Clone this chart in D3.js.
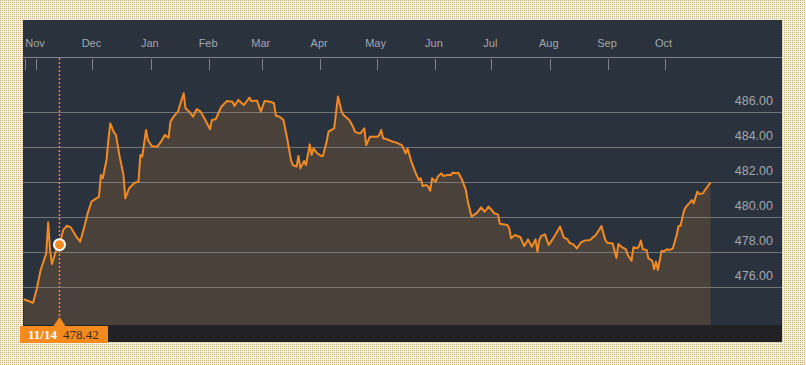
<!DOCTYPE html>
<html>
<head>
<meta charset="utf-8">
<script src="https://cdn.jsdelivr.net/npm/d3@7"></script>
<style>
    body { margin: 0; padding: 0; background: #f3ead0; }
    svg { display: block; }
</style>
</head>
<body>
<div id="chart"></div>
<script>
// daily closes
const dates = [
    "2013-10-26", "2013-10-31", "2013-11-02", "2013-11-04", "2013-11-07", "2013-11-08", "2013-11-09", "2013-11-10", "2013-11-12", "2013-11-14",
    "2013-11-16", "2013-11-18", "2013-11-20", "2013-11-23", "2013-11-25", "2013-11-27", "2013-11-29", "2013-12-01", "2013-12-05", "2013-12-06",
    "2013-12-07", "2013-12-09", "2013-12-10", "2013-12-11", "2013-12-13", "2013-12-14", "2013-12-16", "2013-12-18", "2013-12-19", "2013-12-21",
    "2013-12-24", "2013-12-26", "2013-12-27", "2013-12-28", "2013-12-30", "2013-12-31", "2014-01-02", "2014-01-05", "2014-01-07", "2014-01-09",
    "2014-01-11", "2014-01-12", "2014-01-14", "2014-01-16", "2014-01-17", "2014-01-19", "2014-01-20", "2014-01-22", "2014-01-24", "2014-01-26",
    "2014-01-28", "2014-01-30", "2014-02-02", "2014-02-03", "2014-02-05", "2014-02-08", "2014-02-11", "2014-02-14", "2014-02-15", "2014-02-17",
    "2014-02-20", "2014-02-23", "2014-02-24", "2014-02-27", "2014-03-01", "2014-03-03", "2014-03-06", "2014-03-08", "2014-03-09", "2014-03-11",
    "2014-03-13", "2014-03-15", "2014-03-17", "2014-03-18", "2014-03-20", "2014-03-21", "2014-03-22", "2014-03-24", "2014-03-25", "2014-03-27",
    "2014-03-28", "2014-03-29", "2014-03-31", "2014-04-02", "2014-04-03", "2014-04-05", "2014-04-06", "2014-04-09", "2014-04-11", "2014-04-13",
    "2014-04-14", "2014-04-17", "2014-04-19", "2014-04-20", "2014-04-22", "2014-04-23", "2014-04-25", "2014-04-26", "2014-04-28", "2014-05-02",
    "2014-05-03", "2014-05-04", "2014-05-05", "2014-05-07", "2014-05-10", "2014-05-12", "2014-05-15", "2014-05-17", "2014-05-18", "2014-05-20",
    "2014-05-22", "2014-05-24", "2014-05-25", "2014-05-26", "2014-05-28", "2014-05-29", "2014-05-30", "2014-05-31", "2014-06-02", "2014-06-03",
    "2014-06-05", "2014-06-06", "2014-06-08", "2014-06-10", "2014-06-11", "2014-06-13", "2014-06-14", "2014-06-16", "2014-06-18", "2014-06-19",
    "2014-06-21", "2014-06-24", "2014-06-26", "2014-06-28", "2014-06-30", "2014-07-02", "2014-07-03", "2014-07-05", "2014-07-06", "2014-07-10",
    "2014-07-11", "2014-07-12", "2014-07-14", "2014-07-17", "2014-07-19", "2014-07-21", "2014-07-23", "2014-07-25", "2014-07-26", "2014-07-27",
    "2014-07-28", "2014-07-30", "2014-08-01", "2014-08-03", "2014-08-05", "2014-08-07", "2014-08-09", "2014-08-11", "2014-08-12", "2014-08-14",
    "2014-08-16", "2014-08-18", "2014-08-20", "2014-08-23", "2014-08-26", "2014-08-28", "2014-08-29", "2014-08-31", "2014-09-01", "2014-09-04",
    "2014-09-06", "2014-09-07", "2014-09-09", "2014-09-11", "2014-09-12", "2014-09-14", "2014-09-15", "2014-09-17", "2014-09-18", "2014-09-19",
    "2014-09-20", "2014-09-22", "2014-09-23", "2014-09-25", "2014-09-26", "2014-09-27", "2014-09-28", "2014-09-30", "2014-10-01", "2014-10-03",
    "2014-10-04", "2014-10-06", "2014-10-08", "2014-10-09", "2014-10-10", "2014-10-12", "2014-10-13", "2014-10-15", "2014-10-16", "2014-10-17",
    "2014-10-19", "2014-10-20", "2014-10-22", "2014-10-23", "2014-10-25", "2014-10-26"
];
const closes = [
    475.30, 475.10, 475.93, 476.97, 477.93, 479.70, 478.11, 477.31, 478.02, 478.42,
    479.26, 479.50, 479.41, 478.87, 478.59, 479.35, 480.21, 480.88, 481.16, 482.40,
    482.21, 483.26, 484.40, 485.35, 484.82, 484.69, 483.45, 482.40, 481.07, 481.64,
    481.96, 482.02, 483.54, 483.45, 484.97, 484.40, 484.06, 484.02, 484.31, 484.69,
    484.53, 485.45, 485.79, 486.02, 486.40, 487.07, 486.21, 486.02, 485.73, 486.17,
    486.02, 485.64, 485.01, 485.54, 485.58, 486.30, 486.63, 486.59, 486.34, 486.69,
    486.40, 486.82, 486.63, 486.65, 486.02, 486.63, 486.59, 486.50, 485.79, 485.73,
    485.54, 484.50, 483.26, 482.97, 482.88, 483.49, 482.78, 483.20, 482.97, 484.15,
    483.54, 483.92, 483.64, 483.49, 483.49, 484.31, 484.88, 485.07, 486.88, 486.02,
    485.83, 485.54, 485.16, 484.88, 484.78, 484.78, 485.07, 484.11, 484.59, 484.59,
    484.69, 484.97, 484.50, 484.44, 484.31, 484.25, 484.11, 483.64, 483.92, 483.16,
    482.59, 482.11, 482.21, 481.77, 481.83, 481.73, 481.50, 482.21, 482.02, 482.30,
    482.50, 482.34, 482.40, 482.40, 482.53, 482.50, 482.53, 482.11, 481.54, 480.88,
    480.02, 480.25, 480.55, 480.30, 480.59, 480.36, 480.21, 480.15, 479.62, 479.54,
    479.35, 478.78, 478.97, 478.84, 478.34, 478.72, 478.30, 478.72, 478.02, 478.69,
    478.91, 479.01, 478.40, 478.72, 479.07, 479.45, 478.84, 478.72, 478.53, 478.44,
    478.21, 478.53, 478.65, 478.69, 478.97, 479.30, 479.49, 478.72, 478.53, 478.49,
    477.66, 478.46, 478.27, 478.16, 477.83, 477.50, 478.27, 478.21, 478.34, 478.65,
    478.16, 478.11, 477.64, 477.50, 477.01, 477.45, 476.97, 478.07, 478.02, 478.16,
    478.11, 478.21, 478.97, 479.49, 479.49, 480.40, 480.59, 480.82, 480.97, 480.78,
    481.45, 481.31, 481.35, 481.54, 481.83, 481.96
];
const yTicks = [476, 478, 480, 482, 484, 486];
const monthStart = "2013-11-01", monthEnd = "2014-10-01";
const hoverDate = "2013-11-14", hoverValue = 478.42;

(function () {
    const width = 806, height = 365;
    const panel = { left: 23, right: 782, top: 20, bottom: 342 };
    const plotBottom = 325, axisLine = 57;
    const parse = d3.timeParse("%Y-%m-%d");
    const data = dates.map((d, i) => ({ date: parse(d), value: closes[i] }));

    const svg = d3.select("#chart")
        .append("svg")
        .attr("width", width)
        .attr("height", height);

    // dotted beige page background
    const defs = svg.append("defs");
    const pat = defs.append("pattern")
        .attr("id", "dots")
        .attr("width", 2)
        .attr("height", 2)
        .attr("patternUnits", "userSpaceOnUse");
    pat.append("rect").attr("width", 2).attr("height", 2).attr("fill", "#f7f1df");
    pat.append("rect").attr("width", 1).attr("height", 1).attr("fill", "#c9b27a");
    defs.append("clipPath")
        .attr("id", "clip")
        .append("rect")
        .attr("x", panel.left)
        .attr("y", axisLine)
        .attr("width", panel.right - panel.left)
        .attr("height", plotBottom - axisLine);

    svg.append("rect")
        .attr("width", width)
        .attr("height", height)
        .attr("fill", "url(#dots)");
    svg.append("line")
        .attr("x1", 0).attr("x2", width)
        .attr("y1", 357.5).attr("y2", 357.5)
        .attr("stroke", "#fbf8ee");

    svg.append("rect")
        .attr("x", panel.left)
        .attr("y", panel.top)
        .attr("width", panel.right - panel.left)
        .attr("height", panel.bottom - panel.top)
        .attr("fill", "#2a323e");
    svg.append("rect")
        .attr("x", panel.left)
        .attr("y", plotBottom)
        .attr("width", panel.right - panel.left)
        .attr("height", panel.bottom - plotBottom)
        .attr("fill", "#222225");

    const x = d3.scaleTime()
        .domain([parse(monthStart), parse(monthEnd)])
        .range([35, 663.5]);
    const y = d3.scaleLinear()
        .domain([476, 486])
        .range([287, 112]);

    // area under the line
    svg.append("path")
        .datum(data)
        .attr("clip-path", "url(#clip)")
        .attr("fill", "#4a413b")
        .attr("d", d3.area()
            .x(d => x(d.date))
            .y0(plotBottom)
            .y1(d => y(d.value)));

    // grid + right labels
    svg.append("g")
        .selectAll("line")
        .data(yTicks)
        .join("line")
        .attr("x1", panel.left)
        .attr("x2", panel.right)
        .attr("y1", d => Math.round(y(d)) + 0.5)
        .attr("y2", d => Math.round(y(d)) + 0.5)
        .attr("stroke", "#8c8c8c")
        .attr("stroke-opacity", 0.75);
    svg.append("g")
        .attr("font-family", "Liberation Sans, Arial, sans-serif")
        .attr("font-size", 12.5)
        .attr("fill", "#a3a7ad")
        .attr("text-anchor", "end")
        .selectAll("text")
        .data(yTicks)
        .join("text")
        .attr("x", 773)
        .attr("y", d => y(d) - 7)
        .text(d => d3.format(".2f")(d));

    // top month axis
    const months = d3.timeMonth.range(parse(monthStart), d3.timeMonth.offset(parse(monthEnd), 1));
    svg.append("line")
        .attr("x1", panel.left)
        .attr("x2", panel.right)
        .attr("y1", axisLine + 0.5)
        .attr("y2", axisLine + 0.5)
        .attr("stroke", "#7e848b");
    svg.append("g")
        .attr("stroke", "#7e848b")
        .selectAll("line")
        .data([data[0].date].concat(months))
        .join("line")
        .attr("x1", d => Math.round(x(d)) + 1.5)
        .attr("x2", d => Math.round(x(d)) + 1.5)
        .attr("y1", axisLine + 2)
        .attr("y2", axisLine + 13);
    svg.append("g")
        .attr("font-family", "Liberation Sans, Arial, sans-serif")
        .attr("font-size", 11)
        .attr("fill", "#a3a7ad")
        .attr("text-anchor", "middle")
        .selectAll("text")
        .data(months)
        .join("text")
        .attr("x", d => x(d))
        .attr("y", 47)
        .text(d => d3.timeFormat("%b")(d));

    // price line
    svg.append("path")
        .datum(data)
        .attr("clip-path", "url(#clip)")
        .attr("fill", "none")
        .attr("stroke", "#f28a24")
        .attr("stroke-width", 2)
        .attr("stroke-linejoin", "round")
        .attr("d", d3.line()
            .x(d => x(d.date))
            .y(d => y(d.value)));

    // hover marker
    const hx = x(parse(hoverDate));
    svg.append("line")
        .attr("x1", hx).attr("x2", hx)
        .attr("y1", axisLine + 1)
        .attr("y2", plotBottom - 8)
        .attr("stroke", "#e09a35")
        .attr("stroke-width", 1.4)
        .attr("stroke-dasharray", "2,2");
    svg.append("circle")
        .attr("cx", hx)
        .attr("cy", y(hoverValue))
        .attr("r", 5.5)
        .attr("fill", "#f58a1f")
        .attr("stroke", "#fff")
        .attr("stroke-width", 2);
    svg.append("path")
        .attr("d", `M${hx - 6},${plotBottom + 1}L${hx},${plotBottom - 8}L${hx + 6},${plotBottom + 1}Z`)
        .attr("fill", "#f58a1f");
    svg.append("rect")
        .attr("x", 20)
        .attr("y", plotBottom + 1)
        .attr("width", 88)
        .attr("height", 17)
        .attr("fill", "#f58a1f");
    svg.append("text")
        .attr("x", 28)
        .attr("y", 339)
        .attr("font-family", "Liberation Serif, Georgia, serif")
        .attr("font-size", 13)
        .attr("font-weight", 700)
        .attr("fill", "#fff")
        .text(d3.timeFormat("%m/%d")(parse(hoverDate)));
    svg.append("text")
        .attr("x", 63)
        .attr("y", 339)
        .attr("font-family", "Liberation Serif, Georgia, serif")
        .attr("font-size", 13)
        .attr("fill", "#3b2a1c")
        .text(d3.format(".2f")(hoverValue));
})();
</script>
</body>
</html>
